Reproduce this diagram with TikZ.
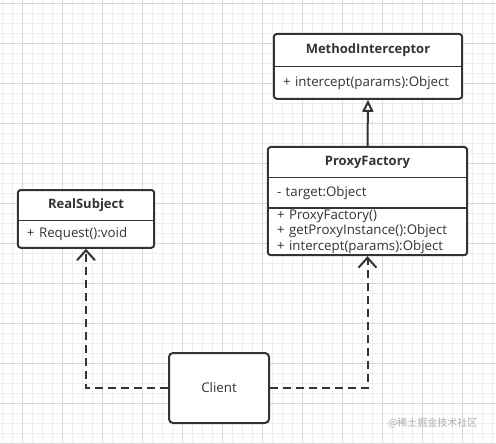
\documentclass[tikz,border=0pt]{standalone}
\usepackage{fontspec}
\setmainfont{Open Sans}
\newfontfamily\cjk{Noto Sans CJK SC}
\usetikzlibrary{arrows.meta,positioning,fit}
\definecolor{umlink}{HTML}{333333}
\definecolor{gridminor}{HTML}{EEEEEE}
\definecolor{gridmajor}{HTML}{D8D8D8}
\tikzset{
  clsname/.style={font=\fontsize{13}{15}\selectfont\bfseries, minimum width=#1, inner sep=0pt, align=center, text=umlink, fill=white},
  clsbody/.style={font=\fontsize{13.3}{15.5}\selectfont, text width=#1, inner xsep=9pt, inner ysep=0pt, align=left, text=umlink, fill=white},
  clsframe/.style={draw=umlink, line width=2pt, rounded corners=3pt, inner sep=0pt},
  divider/.style={draw=umlink, line width=1.5pt},
  client/.style={draw=umlink, fill=white, line width=2pt, rounded corners=4pt, minimum width=100pt, minimum height=70pt, text=umlink, font=\fontsize{13.3}{15}\selectfont},
  depends/.style={draw=umlink, line width=2pt, dash pattern=on 8pt off 5pt, -{Straight Barb[length=10pt,width=18pt]}},
  realizes/.style={draw=umlink, line width=2pt, -{Triangle[open,length=12pt,width=11pt]}},
}

\begin{document}
\begin{tikzpicture}[x=1pt, y=-1pt]
  \useasboundingbox (0,0) rectangle (496,444);
  \fill[white] (0,0) rectangle (496,444);
  % grid paper
  \foreach \x in {2,12,...,492} \draw[gridminor] (\x,0) -- (\x,444);
  \foreach \y in {3,13,...,443} \draw[gridminor] (0,\y) -- (496,\y);
  \foreach \x in {22,62,...,462} \draw[gridmajor] (\x,0) -- (\x,444);
  \foreach \y in {3,43,...,443} \draw[gridmajor] (0,\y) -- (496,\y);

  % MethodInterceptor
  \node[clsname=188pt, minimum height=32pt, anchor=north] (mihead) at (368,34) {MethodInterceptor};
  \node[clsbody=170pt, minimum height=32pt, below=0pt of mihead] (mibody) {+ intercept(params):Object};
  \node[clsframe, fit=(mihead)(mibody)] (mi) {};
  \draw[divider] (mihead.south west) -- (mihead.south east);

  % ProxyFactory
  \node[clsname=199pt, minimum height=30pt, anchor=north] (pfhead) at (367.5,147) {ProxyFactory};
  \node[clsbody=181pt, minimum height=30pt, below=0pt of pfhead] (pfattr) {- target:Object};
  \node[clsbody=181pt, minimum height=47pt, below=0pt of pfattr] (pfops) {+ ProxyFactory()\\+ getProxyInstance():Object\\+ intercept(params):Object};
  \node[clsframe, fit=(pfhead)(pfops)] (pf) {};
  \draw[divider] (pfhead.south west) -- (pfhead.south east);
  \draw[divider] (pfattr.south west) -- (pfattr.south east);

  % RealSubject
  \node[clsname=136pt, minimum height=30pt, anchor=north] (rshead) at (86,190) {RealSubject};
  \node[clsbody=118pt, minimum height=27pt, below=0pt of rshead] (rsbody) {+ Request():void};
  \node[clsframe, fit=(rshead)(rsbody)] (rs) {};
  \draw[divider] (rshead.south west) -- (rshead.south east);

  \node[client] (client) at (219,388) {Client};

  \draw[realizes] (pf.north) -- (mi.south);
  \draw[depends] (client.west) -| (rs.south);
  \draw[depends] (client.east) -| (pf.south);

  \node[text=gray!65, font=\cjk\fontsize{10}{12}\selectfont, anchor=east] (mark) at (481,423) {@稀土掘金技术社区};
\end{tikzpicture}
\end{document}
